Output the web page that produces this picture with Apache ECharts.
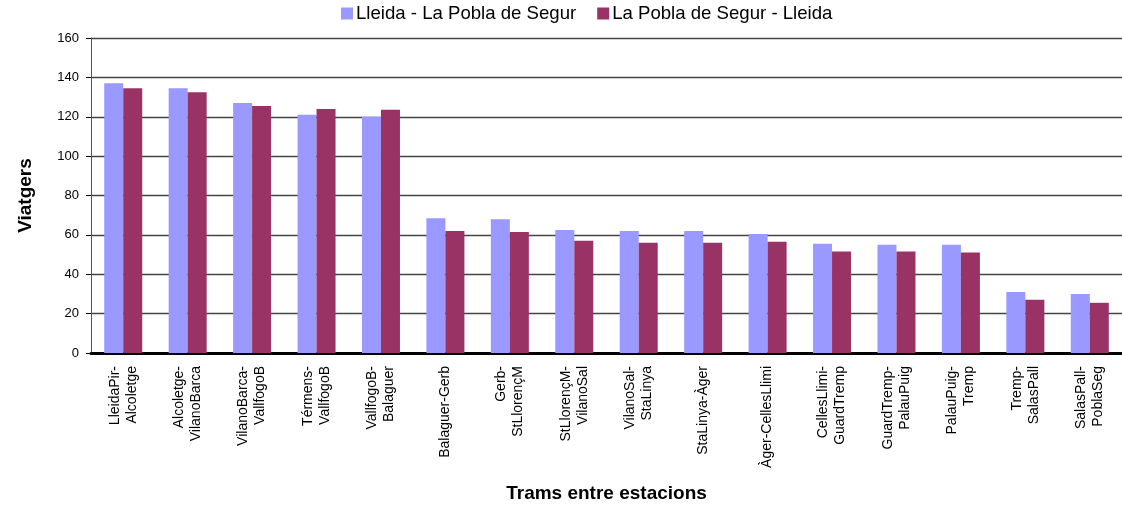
<!DOCTYPE html>
<html>
<head>
<meta charset="utf-8">
<script src="https://cdn.jsdelivr.net/npm/echarts@6/dist/echarts.min.js"></script>
<style>
  html, body { margin: 0; padding: 0; background: #fff; }
  #chart { width: 1122px; height: 508px; }
</style>
</head>
<body>
<div id="chart"></div>
<script>
// Trams (segments) of the Lleida - La Pobla de Segur line
const trams = [
  'LleidaPir-\nAlcoletge',
  'Alcoletge-\nVilanoBarca',
  'VilanoBarca-\nVallfogoB',
  'Térmens-\nVallfogoB',
  'VallfogoB-\nBalaguer',
  'Balaguer-Gerb',
  'Gerb-\nStLlorençM',
  'StLlorençM-\nVilanoSal',
  'VilanoSal-\nStaLinya',
  'StaLinya-Àger',
  'Àger-CellesLlimi',
  'CellesLlimi-\nGuardTremp',
  'GuardTremp-\nPalauPuig',
  'PalauPuig-\nTremp',
  'Tremp-\nSalasPall',
  'SalasPall-\nPoblaSeg'
];

// Passengers per segment, each direction
const lleidaPobla = [137, 134.5, 127, 121, 120, 68.5, 68, 62.5, 62, 62, 60.5, 55.5, 55, 55, 31, 30];
const poblaLleida = [134.5, 132.5, 125.5, 124, 123.5, 62, 61.5, 57, 56, 56, 56.5, 51.5, 51.5, 51, 27, 25.5];

const seriesNames = ['Lleida - La Pobla de Segur', 'La Pobla de Segur - Lleida'];

const chart = echarts.init(document.getElementById('chart'), null, { renderer: 'canvas' });

chart.setOption({
  backgroundColor: '#ffffff',
  animation: false,
  textStyle: { fontFamily: 'Liberation Sans, Arial, sans-serif', color: '#000' },
  legend: {
    top: 4,
    left: 341,
    padding: 0,
    itemWidth: 12,
    itemHeight: 12,
    itemGap: 21,
    icon: 'rect',
    textStyle: { fontSize: 18.6, color: '#000', padding: [0, 0, 0, -2] },
    data: seriesNames
  },
  grid: {
    left: 91,
    right: -12,
    top: 38,
    bottom: 153,
    containLabel: false
  },
  xAxis: {
    type: 'category',
    data: trams,
    name: 'Trams entre estacions',
    nameLocation: 'middle',
    nameGap: 131,
    nameTextStyle: { fontSize: 19, fontWeight: 'bold', color: '#000' },
    axisLine: { lineStyle: { color: '#000', width: 3 } },
    axisTick: { show: false },
    axisLabel: {
      interval: 0,
      rotate: 90,
      fontSize: 14,
      lineHeight: 17,
      margin: 13,
      color: '#000'
    }
  },
  yAxis: {
    type: 'value',
    min: 0,
    max: 160,
    interval: 20,
    name: 'Viatgers',
    nameLocation: 'middle',
    nameGap: 56,
    nameTextStyle: { fontSize: 19, fontWeight: 'bold', color: '#000' },
    axisLine: { show: true, lineStyle: { color: '#555', width: 1 } },
    axisTick: { show: true, length: 5, lineStyle: { color: '#000' } },
    axisLabel: { fontSize: 13, margin: 12, color: '#000' },
    splitLine: { lineStyle: { color: '#444', width: 1.3 } }
  },
  series: [
    {
      name: seriesNames[0],
      type: 'bar',
      data: lleidaPobla,
      barWidth: 19,
      barGap: '0%',
      itemStyle: { color: '#9999FF' }
    },
    {
      name: seriesNames[1],
      type: 'bar',
      data: poblaLleida,
      barWidth: 19,
      barGap: '0%',
      itemStyle: { color: '#993366' }
    }
  ]
});
</script>
</body>
</html>
